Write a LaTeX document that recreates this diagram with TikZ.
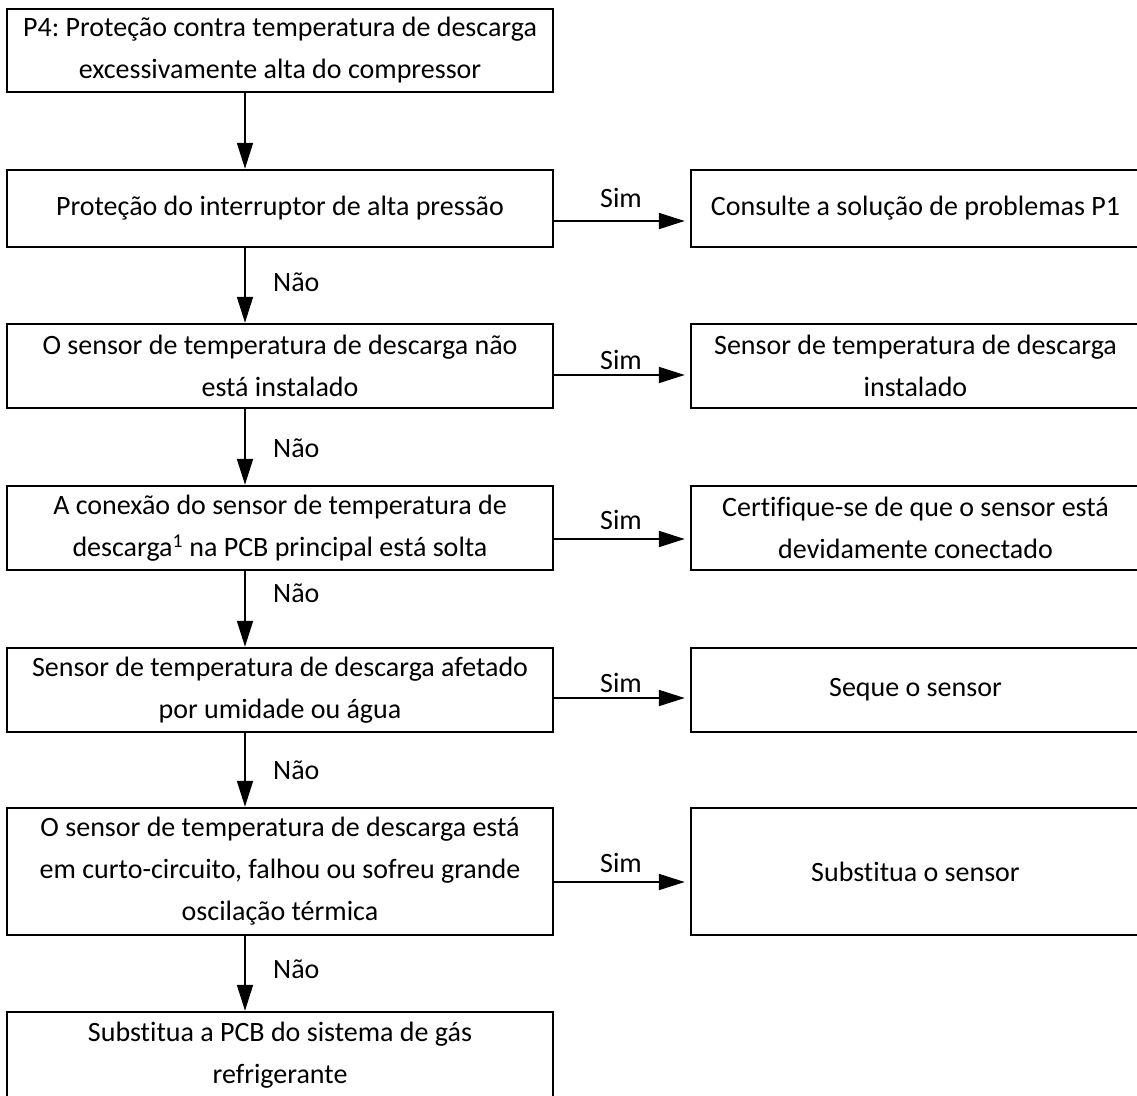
\documentclass[tikz,border=0pt]{standalone}
\usepackage{fontspec}
\setmainfont{Carlito}[Ligatures=NoCommon]
\usetikzlibrary{arrows.meta}
\begin{document}
\frenchspacing
\begin{tikzpicture}[x=1pt,y=-1pt,
  box/.style={draw,line width=2.5pt,inner sep=0pt,align=center,
    font=\fontsize{28}{42}\selectfont},
  lbox/.style={box,minimum width=546pt},
  rbox/.style={box,minimum width=449pt},
  flow/.style={line width=2pt,-{Triangle[length=26pt,width=16pt]}},
  side/.style={flow,shorten >=5pt},
  lbl/.style={font=\fontsize{28}{34}\selectfont,inner sep=0pt}]
\useasboundingbox (0,0) rectangle (1137,1095);

% vertical spine and the heights of the side arrows
\coordinate (v) at (245,0);
\coordinate (h1) at (0,221);
\coordinate (h2) at (0,375);
\coordinate (h3) at (0,539);
\coordinate (h4) at (0,698);
\coordinate (h5) at (0,882);

% left column
\node[lbox,minimum height=83pt] (b1) at (280,50.5)
  {P4: Proteção contra temperatura de descarga\\excessivamente alta do compressor};
\node[lbox,minimum height=77pt] (b2) at (280,208.5)
  {Proteção do interruptor de alta pressão};
\node[lbox,minimum height=84pt] (b3) at (280,366)
  {O sensor de temperatura de descarga não\\está instalado};
\node[lbox,minimum height=84pt] (b4) at (280,528)
  {A conexão do sensor de temperatura de\\descarga\textsuperscript{1} na PCB principal está solta};
\node[lbox,minimum height=84pt] (b5) at (280,690)
  {Sensor de temperatura de descarga afetado\\por umidade ou água};
\node[lbox,minimum height=127pt] (b6) at (280,871.5)
  {O sensor de temperatura de descarga está\\em curto-circuito, falhou ou sofreu grande\\oscilação térmica};
\node[lbox,minimum height=87pt] (b7) at (280,1055.5)
  {Substitua a PCB do sistema de gás\\refrigerante};

% right column
\node[rbox,minimum height=77pt] (r1) at (915.5,208.5)
  {Consulte a solução de problemas P1};
\node[rbox,minimum height=84pt] (r2) at (915.5,366)
  {Sensor de temperatura de descarga\\instalado};
\node[rbox,minimum height=84pt] (r3) at (915.5,528)
  {Certifique-se de que o sensor está\\devidamente conectado};
\node[rbox,minimum height=84pt] (r4) at (915.5,690)
  {Seque o sensor};
\node[rbox,minimum height=127pt] (r5) at (915.5,871.5)
  {Substitua o sensor};

% downward flow
\draw[flow] (b1.south -| v) -- (b2.north -| v);
\draw[flow] (b2.south -| v) -- (b3.north -| v);
\draw[flow] (b3.south -| v) -- (b4.north -| v);
\draw[flow] (b4.south -| v) -- (b5.north -| v);
\draw[flow] (b5.south -| v) -- (b6.north -| v);
\draw[flow] (b6.south -| v) -- (b7.north -| v);

\node[lbl,anchor=west] (n1) at (273,282) {Não};
\node[lbl,anchor=west] (n2) at (273,448) {Não};
\node[lbl,anchor=west] (n3) at (273,593) {Não};
\node[lbl,anchor=west] (n4) at (273,770) {Não};
\node[lbl,anchor=west] (n5) at (273,969) {Não};

% side branches
\draw[side] (b2.east |- h1) -- (r1.west |- h1);
\draw[side] (b3.east |- h2) -- (r2.west |- h2);
\draw[side] (b4.east |- h3) -- (r3.west |- h3);
\draw[side] (b5.east |- h4) -- (r4.west |- h4);
\draw[side] (b6.east |- h5) -- (r5.west |- h5);

\node[lbl] (s1) at (621,198) {Sim};
\node[lbl] (s2) at (621,360) {Sim};
\node[lbl] (s3) at (621,520) {Sim};
\node[lbl] (s4) at (621,683) {Sim};
\node[lbl] (s5) at (621,863) {Sim};
\end{tikzpicture}
\end{document}
